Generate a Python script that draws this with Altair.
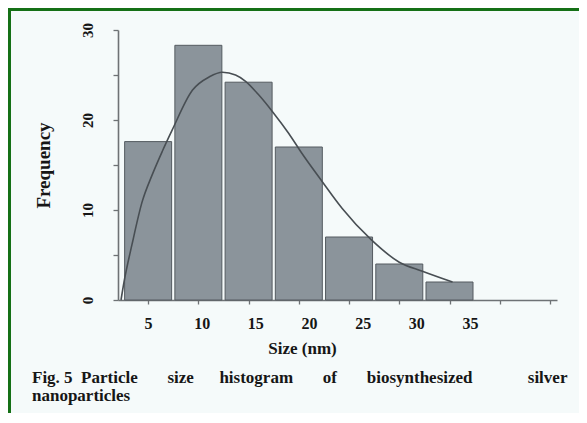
import altair as alt
import pandas as pd

# ---- data ----
size_nm = [5, 10, 15, 20, 25, 30, 35]
frequency = [17.6, 28.3, 24.2, 17.0, 7.0, 4.0, 2.0]

curve_size = [2.3, 2.6, 3.4, 4.4, 5.4, 6.4, 7.4, 9.4, 11.1, 12.4, 13.7, 14.7,
              16.0, 17.4, 19.0, 20.3, 22.3, 24.3, 27.2, 30.0, 32.3, 35.3]
curve_freq = [0.0, 2.0, 6.2, 10.9, 13.9, 16.5, 18.9, 23.3, 24.8, 25.3, 25.0, 24.3,
              22.8, 20.9, 18.5, 16.3, 13.2, 10.2, 6.7, 4.2, 3.2, 2.0]

x_ticks = [5, 10, 15, 20, 25, 30, 35, 40, 45]
x_labels = [5, 10, 15, 20, 25, 30, 35]
y_ticks = [0, 2.5, 5, 7.5, 10, 12.5, 15, 17.5, 20, 22.5, 25, 27.5, 30]

x_title = "Size (nm)"
y_title = "Frequency"
caption_words = ["Fig. 5", "Particle", "size", "histogram", "of", "biosynthesized", "silver"]
caption_line2 = "nanoparticles"

# ---- styling ----
FONT = "Liberation Serif"
BG = "#f5fafa"
GREEN = "#157016"
BAR_FILL = "#8b949b"
BAR_EDGE = "#545b60"
AXIS_C = "#6e7275"
TEXT_C = "#161616"

NB = "\u00a0"
gap_counts = [2, 7, 6, 7, 7, 13]  # justified spacing of the caption's first line
caption_line1 = caption_words[0]
for w, g in zip(caption_words[1:], gap_counts):
    caption_line1 += NB * g + w

hist_df = pd.DataFrame({"size": size_nm, "freq": frequency})
curve_df = pd.DataFrame({"size": curve_size, "freq": curve_freq})
lab_df = pd.DataFrame({"lab": x_labels})

x_scale = alt.Scale(domain=[2, 45.7], nice=False, zero=False, padding=0)
y_scale = alt.Scale(domain=[0, 30], nice=False, zero=True, padding=0)

bars = alt.Chart(hist_df).mark_bar(
    size=47, color=BAR_FILL, stroke=BAR_EDGE, strokeWidth=1
).encode(
    x=alt.X("size:Q", scale=x_scale,
            axis=alt.Axis(values=x_ticks, labels=False, title=None, grid=False,
                          tickSize=4, tickColor=AXIS_C, domainColor=AXIS_C,
                          domainWidth=1.3, tickWidth=1.3)),
    y=alt.Y("freq:Q", scale=y_scale,
            axis=alt.Axis(values=y_ticks, grid=False,
                          labelExpr="datum.value % 10 === 0 ? datum.label : ''",
                          labelOverlap=False, labelFlush=False,
                          labelAngle=270, labelAlign="center", labelBaseline="alphabetic",
                          labelPadding=21, tickSize=5,
                          labelFont=FONT, labelFontSize=15, labelFontWeight="bold",
                          labelColor=TEXT_C,
                          tickColor=AXIS_C, domainColor=AXIS_C, domainWidth=1.6, tickWidth=1.3,
                          title=y_title, titleFont=FONT, titleFontSize=19,
                          titleFontWeight="bold", titleColor=TEXT_C,
                          titleAngle=270, titleAlign="center", titleBaseline="middle",
                          titleX=-75, titleY=135)),
)

curve = alt.Chart(curve_df).mark_line(
    color="#484e53", strokeWidth=1.6, interpolate="monotone"
).encode(
    x=alt.X("size:Q", scale=x_scale),
    y=alt.Y("freq:Q", scale=y_scale),
)

inner = alt.layer(bars, curve)

labels_layer = alt.Chart(lab_df).mark_point(opacity=0).encode(
    x=alt.X("lab:Q", scale=alt.Scale(domain=[2.205, 43.106], nice=False, zero=False),
            axis=alt.Axis(orient="bottom", values=x_labels, ticks=False, domain=False,
                          grid=False, labelOverlap=False, labelFlush=False,
                          labelPadding=15, labelFont=FONT, labelFontSize=16,
                          labelFontWeight="bold", labelColor=TEXT_C,
                          title=x_title, titleFont=FONT, titleFontSize=17,
                          titleFontWeight="bold", titleColor=TEXT_C,
                          titleX=184, titleY=48, titleBaseline="middle",
                          titleAlign="center")),
)

frame_top = alt.Chart().mark_rule(color=GREEN, strokeWidth=3).encode(
    x=alt.value(-110), x2=alt.value(461), y=alt.value(-20.5))
frame_left = alt.Chart().mark_rule(color=GREEN, strokeWidth=3).encode(
    x=alt.value(-108.5), y=alt.value(-22), y2=alt.value(383))

cap1 = alt.Chart().mark_text(
    align="left", baseline="middle", font=FONT, fontSize=17, fontWeight="bold", color=TEXT_C
).encode(x=alt.value(-86), y=alt.value(348), text=alt.value(caption_line1))
cap2 = alt.Chart().mark_text(
    align="left", baseline="middle", font=FONT, fontSize=17, fontWeight="bold", color=TEXT_C
).encode(x=alt.value(-86), y=alt.value(366), text=alt.value(caption_line2))

chart = alt.layer(inner, labels_layer, frame_top, frame_left, cap1, cap2).resolve_scale(
    x="independent"
).properties(
    width=439, height=270,
    padding={"left": 110, "top": 22, "right": 22, "bottom": 113},
    autosize=alt.AutoSizeParams(type="none"),
    background=BG,
).configure_view(stroke=None)

chart.save("out.html", embed_options={"renderer": "svg", "actions": False})
